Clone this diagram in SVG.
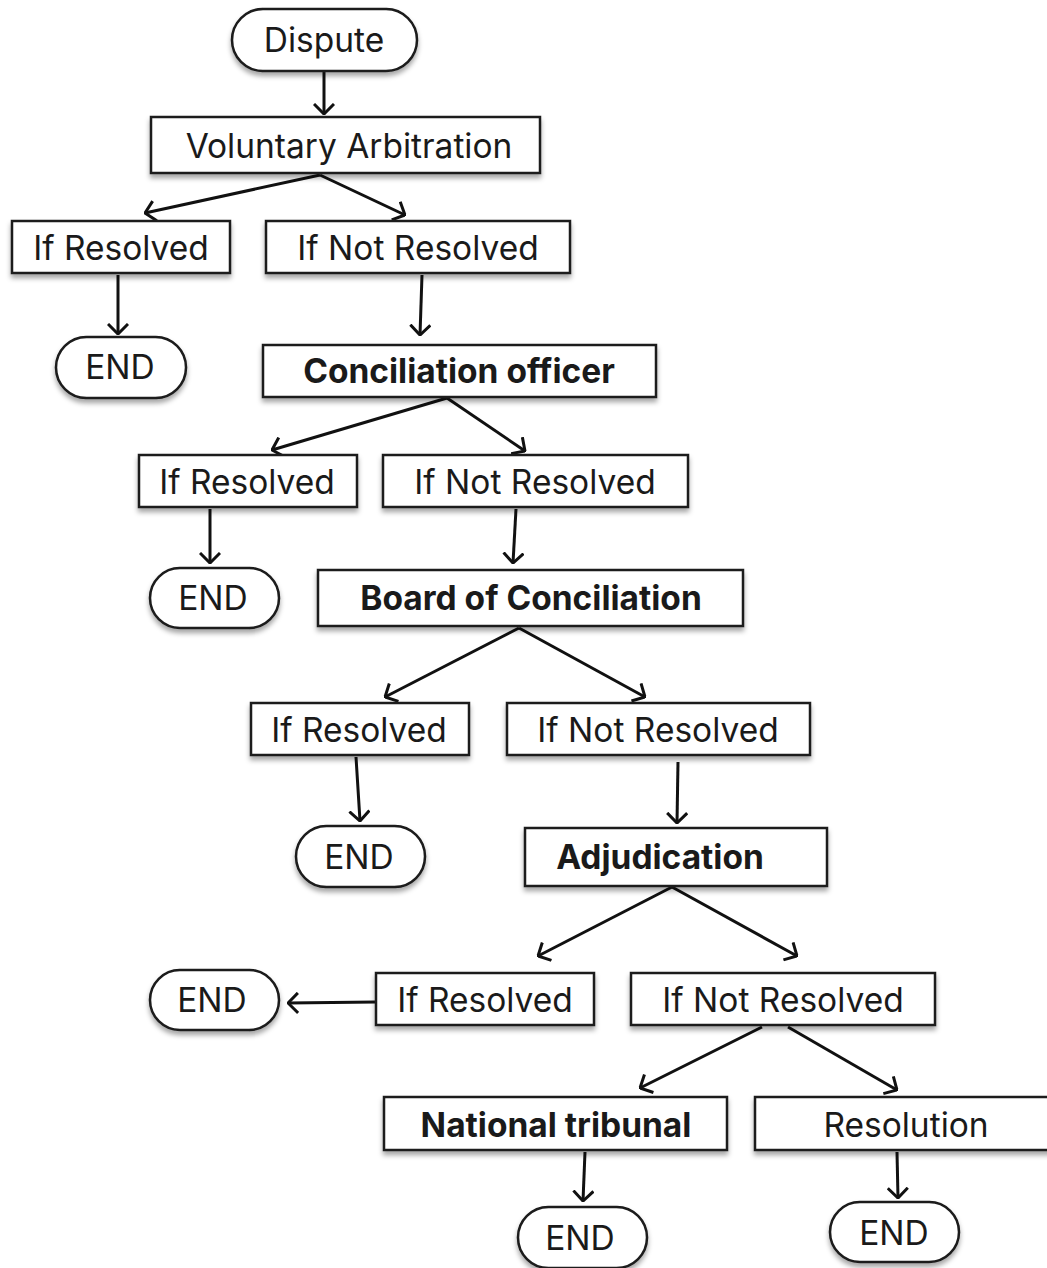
<svg xmlns="http://www.w3.org/2000/svg" width="1047" height="1268" viewBox="0 0 1047 1268">
<style>
.box{fill:#fff;stroke:#1a1a1a;stroke-width:2.5;filter:url(#sh)}
.t{font-family:Inter,"Noto Sans",sans-serif;font-size:33.5px;fill:#1a1a1a;text-anchor:middle;dominant-baseline:central}
.b{font-weight:bold}
.c{fill:none;stroke:#111;stroke-width:3;marker-end:url(#ah)}
</style>
<defs>
<filter id="sh" x="-10%" y="-10%" width="120%" height="140%">
<feDropShadow dx="0" dy="4" stdDeviation="2.5" flood-color="#000" flood-opacity="0.35"/>
</filter>
<marker id="ah" viewBox="0 0 12 22" refX="11" refY="11" markerWidth="12" markerHeight="22" markerUnits="userSpaceOnUse" orient="auto">
<path d="M1,1 L11,11 L1,21" fill="none" stroke="#111" stroke-width="3"/>
</marker>
</defs>
<g id="connectors">
<path class="c" d="M324,71 L324,114"/>
<path class="c" d="M320,175 L145,213"/>
<path class="c" d="M320,175 L405,215"/>
<path class="c" d="M118,275 L118,334"/>
<path class="c" d="M422,275 L420,335"/>
<path class="c" d="M447,398 L272,450"/>
<path class="c" d="M447,398 L525,451"/>
<path class="c" d="M210,509 L210,563"/>
<path class="c" d="M516,509 L513,563"/>
<path class="c" d="M519,628 L385,697"/>
<path class="c" d="M519,628 L645,697"/>
<path class="c" d="M356,757 L360,821"/>
<path class="c" d="M678,762 L677,823"/>
<path class="c" d="M672,887 L538,956"/>
<path class="c" d="M672,887 L797,956"/>
<path class="c" d="M376,1002 L288,1003"/>
<path class="c" d="M762,1027 L640,1088"/>
<path class="c" d="M788,1027 L897,1090"/>
<path class="c" d="M585,1152 L583,1201"/>
<path class="c" d="M897,1152 L898,1198"/>
</g>
<g id="dispute"><rect class="box" x="232" y="9" width="185" height="62" rx="31"/><text class="t" x="324" y="40">Dispute</text></g>
<g id="voluntary"><rect class="box" x="151" y="117" width="389" height="56"/><text class="t" x="349" y="146">Voluntary Arbitration</text></g>
<g id="ifres1"><rect class="box" x="12" y="221" width="218" height="52"/><text class="t" x="121" y="248">If Resolved</text></g>
<g id="ifnot1"><rect class="box" x="266" y="221" width="304" height="52"/><text class="t" x="418" y="248">If Not Resolved</text></g>
<g id="end1"><rect class="box" x="56" y="337" width="130" height="61" rx="30.5"/><text class="t" x="120" y="367">END</text></g>
<g id="concofficer"><rect class="box" x="263" y="345" width="393" height="52"/><text class="t b" x="459" y="371">Conciliation officer</text></g>
<g id="ifres2"><rect class="box" x="139" y="455" width="218" height="52"/><text class="t" x="247" y="482">If Resolved</text></g>
<g id="ifnot2"><rect class="box" x="383" y="455" width="305" height="52"/><text class="t" x="535" y="482">If Not Resolved</text></g>
<g id="end2"><rect class="box" x="150" y="568" width="129" height="60" rx="30"/><text class="t" x="213" y="598">END</text></g>
<g id="board"><rect class="box" x="318" y="570" width="425" height="56"/><text class="t b" x="531" y="598">Board of Conciliation</text></g>
<g id="ifres3"><rect class="box" x="251" y="703" width="218" height="52"/><text class="t" x="359" y="730">If Resolved</text></g>
<g id="ifnot3"><rect class="box" x="507" y="703" width="303" height="52"/><text class="t" x="658" y="730">If Not Resolved</text></g>
<g id="end3"><rect class="box" x="296" y="826" width="129" height="61" rx="30.5"/><text class="t" x="359" y="857">END</text></g>
<g id="adjudication"><rect class="box" x="525" y="828" width="302" height="58"/><text class="t b" x="660" y="857">Adjudication</text></g>
<g id="end4"><rect class="box" x="150" y="970" width="129" height="60" rx="30"/><text class="t" x="212" y="1000">END</text></g>
<g id="ifres4"><rect class="box" x="376" y="973" width="218" height="52"/><text class="t" x="485" y="1000">If Resolved</text></g>
<g id="ifnot4"><rect class="box" x="631" y="973" width="304" height="52"/><text class="t" x="783" y="1000">If Not Resolved</text></g>
<g id="tribunal"><rect class="box" x="384" y="1097" width="343" height="53"/><text class="t b" x="556" y="1125">National tribunal</text></g>
<g id="resolution"><rect class="box" x="755" y="1097" width="300" height="53"/><text class="t" x="906" y="1125">Resolution</text></g>
<g id="end5"><rect class="box" x="518" y="1207" width="129" height="61" rx="30.5"/><text class="t" x="580" y="1238">END</text></g>
<g id="end6"><rect class="box" x="830" y="1202" width="129" height="60" rx="30"/><text class="t" x="894" y="1233">END</text></g>
</svg>
